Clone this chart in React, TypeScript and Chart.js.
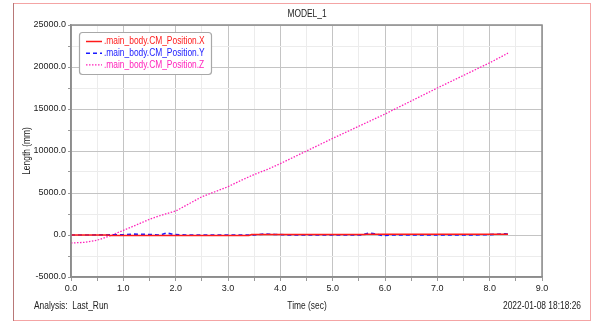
import React, { useEffect, useRef } from "react";
import { Chart, registerables } from "chart.js";

Chart.register(...registerables);

// ---- data ----
const chartTitle = "MODEL_1";
const xTitle = "Time (sec)";
const yTitle = "Length (mm)";
const analysisText = "Analysis:  Last_Run";
const dateText = "2022-01-08 18:18:26";

const seriesNames = [
  ".main_body.CM_Position.X",
  ".main_body.CM_Position.Y",
  ".main_body.CM_Position.Z",
];

const xTimes = [0, 0.7, 0.75, 3.4, 3.45, 5.6, 5.65, 8.35];
const xValues = [0, 0, -60, -60, 60, 60, 100, 100];

const yTimes = [0, 1.0, 1.2, 1.4, 1.7, 1.83, 1.95, 2.2, 3.5, 3.7, 3.9, 4.2, 5.55, 5.68, 5.8, 5.96, 6.1, 7.5, 8.0, 8.3, 8.35];
const yValues = [0, 20, 100, 80, 0, 250, 60, 0, 0, 120, 60, 0, 0, 220, 150, -80, 0, 0, 40, 150, 120];

const zTimes = [0, 0.25, 0.5, 0.75, 1.0, 1.25, 1.5, 1.75, 2.0, 2.25, 2.5, 2.75, 3.0, 3.25, 3.5, 3.75, 4.0, 4.5, 5.0, 5.5, 6.0, 6.5, 7.0, 7.5, 8.0, 8.35];
const zValues = [-950, -880, -620, -80, 550, 1200, 1870, 2400, 2850, 3700, 4550, 5150, 5750, 6500, 7200, 7800, 8500, 10000, 11500, 12950, 14400, 15950, 17500, 19000, 20500, 21650];

const xMin = 0, xMax = 9, xStep = 0.5, xMajor = 1;
const yMin = -5000, yMax = 25000, yStep = 2500, yMajor = 5000;

// ---- styles ----
const FONT = "'Liberation Sans',Arial,sans-serif";
const colors = ["#ff1a1a", "#1a1aff", "#ff22bb"];
const dashes: number[][] = [[], [4, 3], [1.5, 1.5]];
const widths = [1.5, 1.6, 1.3];
const MAJOR = "#c4c4c4";
const MINOR = "#ececec";
const SQUEEZE = 0.84;

const toXY = (t: number[], v: number[]) => t.map((x, i) => ({ x, y: v[i] }));

export default function App() {
  const ref = useRef<HTMLCanvasElement>(null);
  useEffect(() => {
    const canvas = ref.current!;
    const text = (c: any, s: string, x: number, y: number, align: string) => {
      c.save();
      c.translate(x, y);
      c.scale(SQUEEZE, 1);
      c.textAlign = align;
      c.fillText(s, 0, 0);
      c.restore();
    };
    const decor = {
      id: "decor",
      beforeDraw(chart: any) {
        const c = chart.ctx;
        c.save();
        c.fillStyle = "#fff";
        c.fillRect(0, 0, chart.width, chart.height);
        c.lineWidth = 1;
        c.strokeStyle = "#f4a4a4";
        c.strokeRect(13.5, 3.5, 577, 317);
        c.strokeStyle = "#b87878";
        c.beginPath();
        c.moveTo(13.5, 3);
        c.lineTo(13.5, 321);
        c.stroke();
        c.restore();
      },
      afterDraw(chart: any) {
        const c = chart.ctx;
        const a = chart.chartArea;
        c.save();
        // plot frame
        c.strokeStyle = "#8c8c8c";
        c.lineWidth = 1.5;
        c.strokeRect(a.left, a.top, a.right - a.left, a.bottom - a.top);
        // texts
        c.fillStyle = "#222";
        c.font = `10px ${FONT}`;
        c.textBaseline = "middle";
        text(c, chartTitle, 307, 14, "center");
        text(c, xTitle, 307, 306, "center");
        text(c, analysisText, 34, 306, "left");
        text(c, dateText, 581, 306, "right");
        c.save();
        c.translate(27, (a.top + a.bottom) / 2);
        c.rotate(-Math.PI / 2);
        text(c, yTitle, 0, 0, "center");
        c.restore();
        // legend
        const lx = 79.5, ly = 32.5, lw = 132, lh = 42;
        c.beginPath();
        c.roundRect(lx, ly, lw, lh, 3);
        c.fillStyle = "#fff";
        c.fill();
        c.strokeStyle = "#a8a8a8";
        c.lineWidth = 1.2;
        c.stroke();
        seriesNames.forEach((name, i) => {
          const y = 41.5 + i * 11.7;
          c.beginPath();
          c.setLineDash(dashes[i]);
          c.strokeStyle = colors[i];
          c.lineWidth = widths[i];
          c.moveTo(86, y);
          c.lineTo(102, y);
          c.stroke();
          c.setLineDash([]);
          c.fillStyle = colors[i];
          text(c, name, 104, y, "left");
        });
        c.restore();
      },
    };
    const gridColor = (major: number) => (ctx: any) => {
      const v = ctx.tick ? ctx.tick.value : 0;
      return Math.abs(v / major - Math.round(v / major)) < 1e-6 ? MAJOR : MINOR;
    };
    const tickColor = () => "#999";
    const chart = new Chart(canvas, {
      type: "line",
      data: {
        datasets: [
          { label: seriesNames[0], data: toXY(xTimes, xValues) },
          { label: seriesNames[1], data: toXY(yTimes, yValues) },
          { label: seriesNames[2], data: toXY(zTimes, zValues) },
        ].map((d, i) => ({
          ...d,
          borderColor: colors[i],
          backgroundColor: colors[i],
          borderWidth: widths[i],
          borderDash: dashes[i],
          pointRadius: 0,
          tension: 0,
          fill: false,
        })) as any,
      },
      options: {
        animation: false,
        responsive: false,
        layout: { padding: { left: 0, right: 55, top: 25, bottom: 0 } },
        plugins: { legend: { display: false }, title: { display: false }, tooltip: { enabled: false } },
        scales: {
          x: {
            type: "linear",
            min: xMin,
            max: xMax,
            afterFit: (s: any) => { s.height = 45; },
            ticks: {
              stepSize: xStep,
              autoSkip: false,
              maxRotation: 0,
              padding: 2,
              color: "#222",
              font: { family: FONT, size: 9 },
              callback: (v: any) => (Math.abs(v - Math.round(v / xMajor) * xMajor) < 1e-6 ? Number(v).toFixed(1) : ""),
            },
            grid: { color: gridColor(xMajor), tickLength: 4, tickColor: tickColor as any, lineWidth: 1 },
            border: { color: "#8c8c8c", width: 1.5 },
          },
          y: {
            type: "linear",
            min: yMin,
            max: yMax,
            afterFit: (s: any) => { s.width = 71; },
            ticks: {
              stepSize: yStep,
              autoSkip: false,
              padding: 2,
              color: "#222",
              font: { family: FONT, size: 9 },
              callback: (v: any) => (Math.abs(v % yMajor) < 1e-6 ? Number(v).toFixed(1) : ""),
            },
            grid: { color: gridColor(yMajor), tickLength: 3, tickColor: tickColor as any, lineWidth: 1 },
            border: { color: "#8c8c8c", width: 1.5 },
          },
        },
      },
      plugins: [decor],
    });
    return () => chart.destroy();
  }, []);
  return (
    <div style={{ position: "fixed", left: 0, top: 0, width: 597, height: 322, background: "#fff" }}>
      <canvas ref={ref} width={597} height={322} style={{ display: "block", width: 597, height: 322 }} />
    </div>
  );
}
